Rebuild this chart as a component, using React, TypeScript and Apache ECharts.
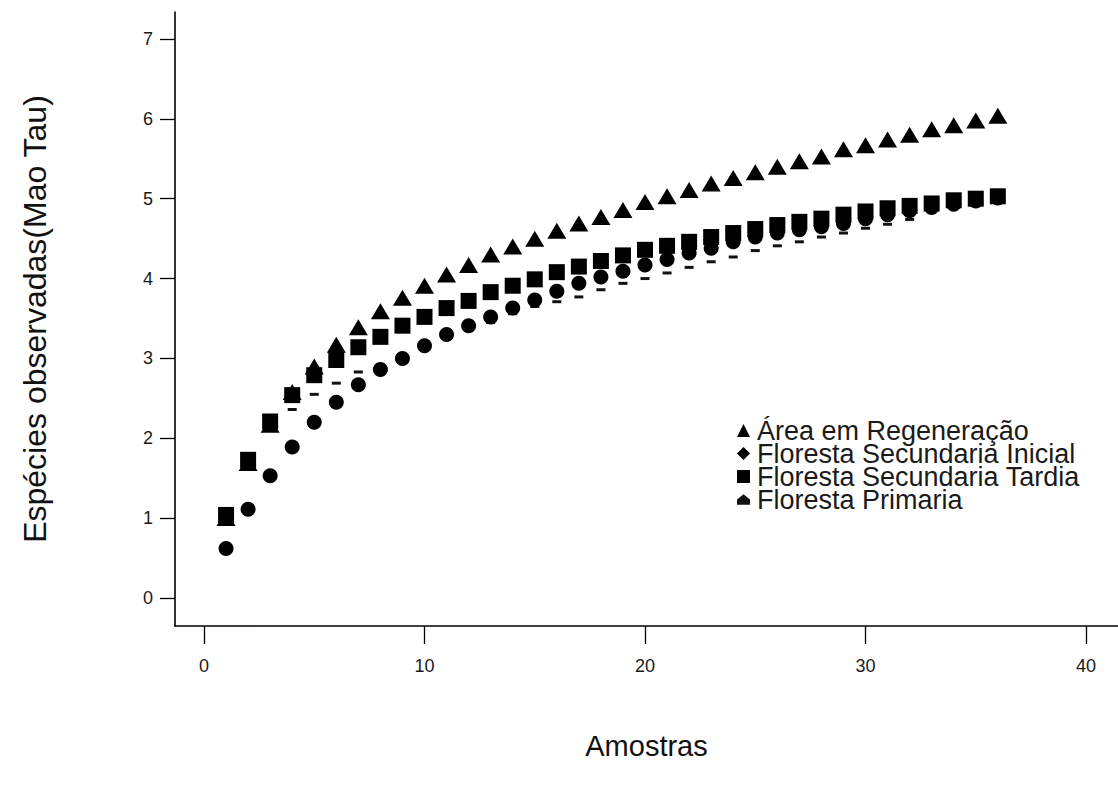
import React, { useEffect, useRef } from "react";
import * as echarts from "echarts";

const amostras = [1, 2, 3, 4, 5, 6, 7, 8, 9, 10, 11, 12, 13, 14, 15, 16, 17, 18, 19, 20, 21, 22, 23, 24, 25, 26, 27, 28, 29, 30, 31, 32, 33, 34, 35, 36];

const areaRegeneracao = [1.0, 1.69, 2.17, 2.58, 2.9, 3.17, 3.39, 3.59, 3.76, 3.91, 4.05, 4.17, 4.3, 4.4, 4.5, 4.6, 4.69, 4.77, 4.86, 4.96, 5.03, 5.11, 5.19, 5.26, 5.33, 5.4, 5.47, 5.53, 5.62, 5.67, 5.74, 5.8, 5.87, 5.92, 5.98, 6.04];
const secundariaInicial = [0.62, 1.11, 1.53, 1.89, 2.2, 2.45, 2.67, 2.86, 3.0, 3.16, 3.3, 3.41, 3.52, 3.63, 3.73, 3.84, 3.94, 4.02, 4.09, 4.17, 4.24, 4.32, 4.38, 4.46, 4.52, 4.57, 4.61, 4.65, 4.69, 4.75, 4.8, 4.85, 4.89, 4.93, 4.97, 5.01];
const secundariaTardia = [1.04, 1.73, 2.21, 2.54, 2.79, 2.98, 3.14, 3.27, 3.41, 3.52, 3.63, 3.72, 3.83, 3.91, 3.99, 4.08, 4.15, 4.22, 4.29, 4.36, 4.41, 4.46, 4.52, 4.57, 4.62, 4.67, 4.71, 4.75, 4.8, 4.84, 4.88, 4.91, 4.94, 4.98, 5.0, 5.03];
const florestaPrimaria = [1.0, 1.68, 2.13, 2.36, 2.55, 2.69, 2.83, 2.92, 3.03, 3.14, 3.25, 3.35, 3.45, 3.56, 3.65, 3.71, 3.77, 3.86, 3.94, 4.0, 4.07, 4.14, 4.21, 4.27, 4.35, 4.41, 4.46, 4.52, 4.57, 4.63, 4.68, 4.74];

const xTicks = [0, 10, 20, 30, 40];
const yTicks = [0, 1, 2, 3, 4, 5, 6, 7];

const NAMES = {
  area: "Área em Regeneração",
  inicial: "Floresta Secundaria Inicial",
  tardia: "Floresta Secundaria Tardia",
  primaria: "Floresta Primaria",
};

const pair = (ys: number[]) => ys.map((v, i) => [amostras[i], v]);

const FONT = "Liberation Sans, Arial, sans-serif";
const INK = "#000";
const PENT = "path://M5 0 L10 4 L10 8 L0 8 L0 4 Z";

export default function App() {
  const ref = useRef<HTMLDivElement>(null);
  useEffect(() => {
    if (!ref.current) return;
    const chart = echarts.init(ref.current, null, { renderer: "svg" });
    chart.setOption({
      animation: false,
      backgroundColor: "#fff",
      textStyle: { fontFamily: FONT },
      grid: { left: 175, top: 12, right: 0, bottom: 162, containLabel: false },
      xAxis: {
        type: "value",
        min: -1.315,
        max: 41.45,
        name: "Amostras",
        nameLocation: "middle",
        nameGap: 105,
        nameTextStyle: { fontSize: 29, color: "#111", fontFamily: FONT },
        axisLine: { show: true, onZero: false, lineStyle: { color: INK, width: 1.6 } },
        axisTick: { show: true, customValues: xTicks, length: 18, lineStyle: { color: INK, width: 1.3 } },
        axisLabel: { customValues: xTicks, fontSize: 18, color: "#1a1a1a", margin: 31, fontFamily: FONT },
        splitLine: { show: false },
      },
      yAxis: {
        type: "value",
        min: -0.351,
        max: 7.338,
        name: "Espécies observadas(Mao Tau)",
        nameLocation: "middle",
        nameGap: 124,
        nameRotate: 90,
        nameTextStyle: { fontSize: 32, color: "#111", fontFamily: FONT },
        axisLine: { show: true, onZero: false, lineStyle: { color: INK, width: 1.6 } },
        axisTick: { show: true, customValues: yTicks, length: 15, lineStyle: { color: INK, width: 1.3 } },
        axisLabel: { customValues: yTicks, fontSize: 18, color: "#1a1a1a", margin: 22, fontFamily: FONT },
        splitLine: { show: false },
      },
      legend: {
        orient: "vertical",
        left: 737,
        top: 417,
        padding: 0,
        itemGap: -4,
        itemWidth: 13,
        itemHeight: 13,
        selectedMode: false,
        textStyle: { fontSize: 27, color: "#1a1a1a", fontFamily: FONT, padding: [0, 0, 0, 2] },
        data: [
          { name: NAMES.area, icon: "triangle" },
          { name: NAMES.inicial, icon: "diamond" },
          { name: NAMES.tardia, icon: "rect" },
          { name: NAMES.primaria, icon: PENT },
        ],
      },
      series: [
        {
          name: NAMES.primaria,
          type: "scatter",
          data: pair(florestaPrimaria),
          symbol: "rect",
          symbolSize: [9, 3],
          itemStyle: { color: "#111", opacity: 1 },
          z: 1,
        },
        {
          name: NAMES.inicial,
          type: "scatter",
          data: pair(secundariaInicial),
          symbol: "circle",
          symbolSize: 15,
          itemStyle: { color: INK, opacity: 1 },
          z: 2,
        },
        {
          name: NAMES.area,
          type: "scatter",
          data: pair(areaRegeneracao),
          symbol: "triangle",
          symbolSize: [19, 16],
          itemStyle: { color: INK, opacity: 1 },
          z: 3,
        },
        {
          name: NAMES.tardia,
          type: "scatter",
          data: pair(secundariaTardia),
          symbol: "rect",
          symbolSize: 16,
          itemStyle: { color: INK, opacity: 1 },
          z: 4,
        },
      ],
    });
    return () => chart.dispose();
  }, []);
  return <div ref={ref} style={{ width: 1118, height: 788, position: "absolute", left: 0, top: 0 }} />;
}
